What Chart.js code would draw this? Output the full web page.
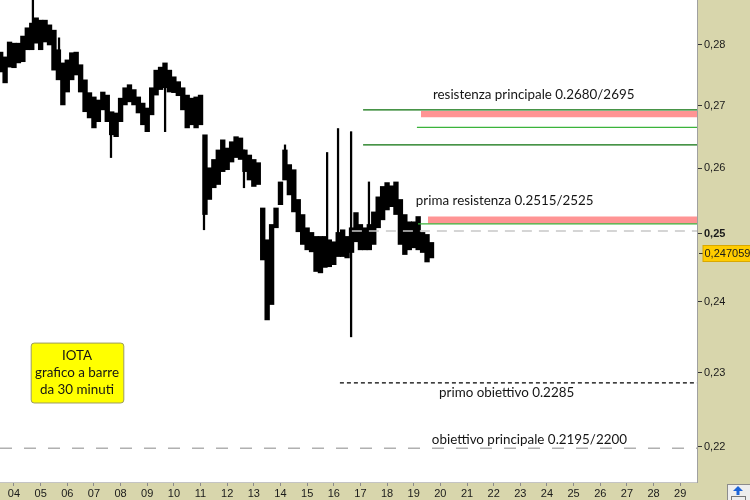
<!DOCTYPE html>
<html>
<head>
<meta charset="utf-8">
<script src="https://cdn.jsdelivr.net/npm/chart.js"></script>
<style>
  html, body { margin: 0; padding: 0; background: #fff; }
  #grafico { display: block; }
</style>
</head>
<body>
<canvas id="grafico" width="750" height="500"></canvas>
<script>
// IOTA - bars every 4 hours (day of month), highs and lows
const startDay = 3.5;
const stepDay = 1 / 6;
const highs = [
    0.2788, 0.2780, 0.2805, 0.2803, 0.2803, 0.2815, 0.2829, 0.2837, 0.2846, 0.2842,
    0.2842, 0.2834, 0.2825, 0.2792, 0.2770, 0.2775, 0.2787, 0.2788, 0.2767, 0.2742,
    0.2721, 0.2714, 0.2709, 0.2722, 0.2717, 0.2690, 0.2688, 0.2712, 0.2729, 0.2734,
    0.2726, 0.2714, 0.2704, 0.2696, 0.2729, 0.2758, 0.2763, 0.2770, 0.2758, 0.2747,
    0.2739, 0.2729, 0.2717, 0.2712, 0.2714, 0.2717, 0.2653, 0.2601, 0.2614, 0.2629,
    0.2645, 0.2632, 0.2642, 0.2650, 0.2648, 0.2629, 0.2621, 0.2614, 0.2609, 0.2539,
    0.2491, 0.2514, 0.2539, 0.2579, 0.2629, 0.2606, 0.2598, 0.2552, 0.2529, 0.2509,
    0.2502, 0.2496, 0.2496, 0.2496, 0.2491, 0.2488, 0.2502, 0.2506, 0.2496, 0.2509,
    0.2532, 0.2514, 0.2509, 0.2514, 0.2533, 0.2556, 0.2572, 0.2578, 0.2573, 0.2579,
    0.2552, 0.2529, 0.2518, 0.2518, 0.2526, 0.2502, 0.2499, 0.2487
];
const lows = [
    0.2755, 0.2737, 0.2763, 0.2762, 0.2770, 0.2772, 0.2792, 0.2792, 0.2803, 0.2792,
    0.2805, 0.2800, 0.2758, 0.2742, 0.2701, 0.2722, 0.2742, 0.2750, 0.2722, 0.2690,
    0.2680, 0.2664, 0.2674, 0.2693, 0.2674, 0.2653, 0.2650, 0.2674, 0.2701, 0.2706,
    0.2701, 0.2688, 0.2669, 0.2658, 0.2685, 0.2717, 0.2726, 0.2729, 0.2722, 0.2721,
    0.2716, 0.2693, 0.2664, 0.2669, 0.2664, 0.2669, 0.2529, 0.2552, 0.2570, 0.2575,
    0.2595, 0.2598, 0.2610, 0.2617, 0.2614, 0.2595, 0.2582, 0.2572, 0.2575, 0.2461,
    0.2374, 0.2396, 0.2509, 0.2544, 0.2582, 0.2559, 0.2533, 0.2503, 0.2484, 0.2476,
    0.2473, 0.2444, 0.2442, 0.2450, 0.2451, 0.2454, 0.2466, 0.2466, 0.2464, 0.2472,
    0.2488, 0.2476, 0.2476, 0.2476, 0.2484, 0.2509, 0.2521, 0.2536, 0.2541, 0.2529,
    0.2484, 0.2469, 0.2476, 0.2479, 0.2476, 0.2472, 0.2458, 0.2464
];

// single 30 minute bars that stick out of the band
const spikeDays = [4.71, 5.69, 7.64, 9.67, 11.13, 12.63, 14.17, 15.75, 16.16, 16.65, 17.32];
const spikeHighs = [0.2876, 0.2812, 0.2677, 0.2742, 0.2645, 0.2629, 0.2637, 0.2625, 0.2663, 0.2658, 0.2579];
const spikeLows = [0.2834, 0.2775, 0.2617, 0.2658, 0.2506, 0.2570, 0.2598, 0.2484, 0.2484, 0.2350, 0.2499];

const lastPrice = 0.247059;
const priceTicks = [0.22, 0.23, 0.24, 0.25, 0.26, 0.27, 0.28];
const dayTicks = [4, 5, 6, 7, 8, 9, 10, 11, 12, 13, 14, 15, 16, 17, 18, 19, 20, 21, 22, 23, 24, 25, 26, 27, 28, 29];
const dayMin = 3.475;
const dayMax = 29.63;
const priceMin = 0.21539;
const priceMax = 0.28766;

// levels drawn on the chart
const greenLevels = [0.2693, 0.2637];
const greenFrom = [17.10, 17.10];
const lightGreenLevels = [0.2665, 0.2515];
const lightGreenFrom = [19.12, 19.16];
const bandTops = [0.2691, 0.2526];
const bandBottoms = [0.2681, 0.2515];
const bandFrom = [19.27, 19.53];
const grayLevels = [0.2504, 0.2198];
const grayFrom = [16.68, 3.475];
const targetLevel = 0.2286;
const targetFrom = 16.23;

const noteTexts = ['resistenza principale 0.2680/2695', 'prima resistenza 0.2515/2525', 'primo obiettivo 0.2285', 'obiettivo principale 0.2195/2200'];
const noteDays = [19.72, 19.08, 19.95, 19.68];
const notePrices = [0.2717, 0.2550, 0.22722, 0.22098];

const boxLines = ['IOTA', 'grafico a barre', 'da 30 minuti'];
const boxDays = [4.627, 8.102];
const boxPrices = [0.23419, 0.22592];

function formatPrice(v) {
    return String(v).replace('.', ',');
}

function levelLine(level, from, color, width, dash) {
    return {
        type: 'line',
        data: [{ x: from, y: level }, { x: dayMax, y: level }],
        borderColor: color,
        borderWidth: width,
        borderDash: dash,
        pointRadius: 0,
        fill: false,
        order: 1
    };
}

function buildDatasets() {
    let datasets = [];

    let bars = [];
    for (let i = 0; i < highs.length; i++) {
        bars.push({ x: startDay + i * stepDay, y: [lows[i], highs[i]] });
    }
    datasets.push({
        type: 'bar',
        data: bars,
        backgroundColor: '#000',
        borderWidth: 0,
        barThickness: 4.7,
        stack: 'prezzo',
        order: 5
    });

    let spikes = [];
    for (let i = 0; i < spikeDays.length; i++) {
        spikes.push({ x: spikeDays[i], y: [spikeLows[i], spikeHighs[i]] });
    }
    datasets.push({
        type: 'bar',
        data: spikes,
        backgroundColor: '#000',
        borderWidth: 0,
        barThickness: 1.6,
        stack: 'prezzo',
        order: 5
    });

    // pink bands: top line, then bottom line filled to it
    for (let i = 0; i < bandTops.length; i++) {
        datasets.push({
            type: 'line',
            data: [{ x: bandFrom[i], y: bandTops[i] }, { x: dayMax, y: bandTops[i] }],
            borderWidth: 0,
            borderColor: 'rgba(0,0,0,0)',
            pointRadius: 0,
            fill: false,
            order: 2
        });
        datasets.push({
            type: 'line',
            data: [{ x: bandFrom[i], y: bandBottoms[i] }, { x: dayMax, y: bandBottoms[i] }],
            borderWidth: 0,
            borderColor: 'rgba(0,0,0,0)',
            backgroundColor: '#ff9494',
            pointRadius: 0,
            fill: '-1',
            order: 2
        });
    }

    for (let i = 0; i < greenLevels.length; i++) {
        datasets.push(levelLine(greenLevels[i], greenFrom[i], '#0a700a', 1.2, []));
    }
    for (let i = 0; i < lightGreenLevels.length; i++) {
        datasets.push(levelLine(lightGreenLevels[i], lightGreenFrom[i], '#3bb33b', 1.2, []));
    }
    datasets.push(levelLine(grayLevels[0], grayFrom[0], '#c8c8c8', 1.5, [10, 7]));
    datasets.push(levelLine(grayLevels[1], grayFrom[1], '#b0b0b0', 1.5, [12, 12]));
    datasets.push(levelLine(targetLevel, targetFrom, '#000', 1.2, [4, 3]));

    return datasets;
}

const disegniExtra = {
    id: 'disegniExtra',
    beforeDraw(chart) {
        const c = chart.ctx;
        const a = chart.chartArea;
        c.save();
        c.fillStyle = '#d8d6ac';
        c.fillRect(0, 0, chart.width, chart.height);
        c.fillStyle = '#fff';
        c.fillRect(a.left, a.top, a.right - a.left, a.bottom - a.top);
        c.restore();
    },
    afterDraw(chart) {
        const c = chart.ctx;
        const xs = chart.scales.x;
        const ys = chart.scales.y;
        const a = chart.chartArea;
        c.save();

        // notes next to the levels
        c.font = '13.4px Lato';
        c.fillStyle = '#151515';
        c.textAlign = 'left';
        c.textBaseline = 'middle';
        for (let i = 0; i < noteTexts.length; i++) {
            c.fillText(noteTexts[i], xs.getPixelForValue(noteDays[i]), ys.getPixelForValue(notePrices[i]));
        }

        // yellow title box
        const bx = xs.getPixelForValue(boxDays[0]);
        const bx2 = xs.getPixelForValue(boxDays[1]);
        const by = ys.getPixelForValue(boxPrices[0]);
        const by2 = ys.getPixelForValue(boxPrices[1]);
        c.beginPath();
        c.roundRect(bx + 0.5, by + 0.5, bx2 - bx, by2 - by, 3);
        c.fillStyle = '#ffff00';
        c.fill();
        c.strokeStyle = '#9c9c62';
        c.lineWidth = 1;
        c.stroke();
        c.fillStyle = '#151515';
        c.textAlign = 'center';
        const mid = (by + by2) / 2;
        for (let i = 0; i < boxLines.length; i++) {
            c.fillText(boxLines[i], (bx + bx2) / 2, mid + (i - 1) * 17);
        }

        // last price marker on the axis
        const py = Math.round(ys.getPixelForValue(lastPrice)) + 0.5;
        c.strokeStyle = '#333';
        c.beginPath();
        c.moveTo(a.right + 2, py);
        c.lineTo(a.right + 6, py);
        c.stroke();
        c.fillStyle = '#ffcc00';
        c.fillRect(a.right + 6, py - 8, 60, 16);
        c.strokeStyle = '#d9a800';
        c.strokeRect(a.right + 6, py - 8, 60, 16);
        c.fillStyle = '#1a1a1a';
        c.font = '11px "Liberation Sans"';
        c.textAlign = 'left';
        c.fillText(formatPrice(lastPrice), a.right + 7.5, py + 0.5);

        // small button in the corner
        const ix = chart.width - 23;
        const iy = a.bottom + 2;
        c.fillStyle = '#eeeeee';
        c.fillRect(ix + 0.5, iy + 0.5, 24, 17);
        c.strokeStyle = '#8c8c8c';
        c.strokeRect(ix + 0.5, iy + 0.5, 24, 17);
        c.fillStyle = '#1c64d8';
        c.beginPath();
        c.moveTo(ix + 11, iy + 2);
        c.lineTo(ix + 16, iy + 7);
        c.lineTo(ix + 6, iy + 7);
        c.closePath();
        c.fill();
        c.fillRect(ix + 9.5, iy + 7, 3, 4);
        c.strokeStyle = '#000';
        c.setLineDash([1, 1]);
        c.strokeRect(ix + 4.5, iy + 12.5, 14, 4);
        c.restore();
    }
};

function graficarIota() {
    const ctx = document.getElementById('grafico').getContext('2d');
    new Chart(ctx, {
        type: 'bar',
        data: { datasets: buildDatasets() },
        options: {
            responsive: false,
            animation: false,
            events: [],
            layout: { padding: 0 },
            plugins: {
                legend: { display: false },
                tooltip: { enabled: false },
                title: { display: false }
            },
            scales: {
                x: {
                    type: 'linear',
                    min: dayMin,
                    max: dayMax,
                    offset: false,
                    grid: { drawOnChartArea: false, offset: false, tickLength: 4, color: '#8a8a8a' },
                    border: { color: '#c4c4c4' },
                    ticks: {
                        padding: 1,
                        color: '#1a1a1a',
                        font: { family: 'Liberation Sans', size: 11 },
                        maxRotation: 0,
                        autoSkip: false,
                        callback: (v) => String(v).padStart(2, '0')
                    },
                    afterBuildTicks: (scale) => {
                        scale.ticks = dayTicks.map(d => ({ value: d }));
                    },
                    afterFit: (scale) => {
                        scale.height = 18;
                        scale.paddingLeft = 0;
                        scale.paddingRight = 0;
                    }
                },
                y: {
                    type: 'logarithmic',
                    position: 'right',
                    min: priceMin,
                    max: priceMax,
                    grid: { drawOnChartArea: false, tickLength: 5, color: '#333' },
                    border: { color: '#a0a0a0' },
                    ticks: {
                        padding: 2,
                        color: '#1a1a1a',
                        font: (c) => ({
                            family: 'Liberation Sans',
                            size: 11,
                            weight: c.tick && c.tick.value === 0.25 ? 'bold' : 'normal'
                        }),
                        callback: (v) => formatPrice(v)
                    },
                    afterBuildTicks: (scale) => {
                        scale.ticks = priceTicks.map(p => ({ value: p }));
                    },
                    afterFit: (scale) => {
                        scale.width = 53;
                        scale.paddingTop = 0;
                        scale.paddingBottom = 0;
                    }
                }
            }
        },
        plugins: [disegniExtra]
    });
}

graficarIota();
</script>
</body>
</html>
